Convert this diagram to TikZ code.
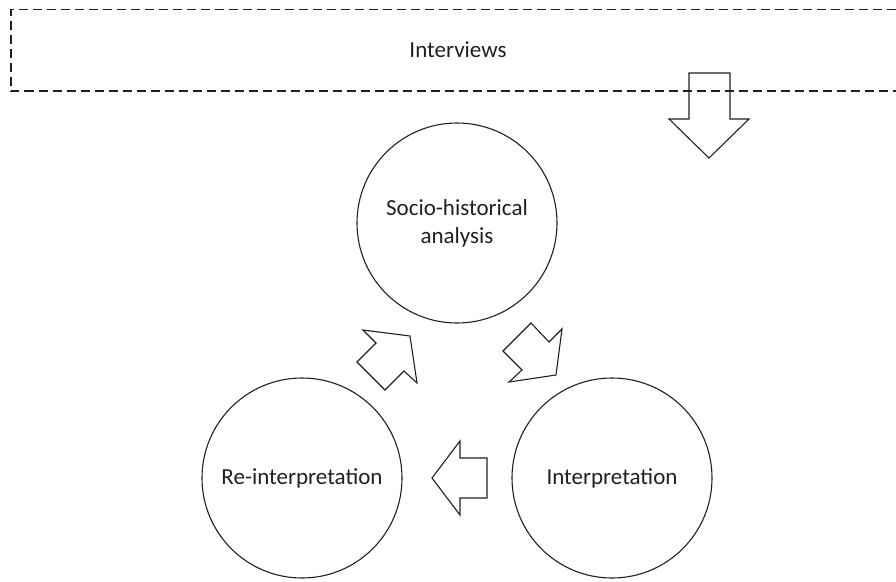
\documentclass[tikz,border=0pt]{standalone}
\usepackage{fontspec}
\setmainfont{Carlito}
\definecolor{ink}{HTML}{231F20}
\begin{document}
\begin{tikzpicture}[x=1pt,y=-1pt,
  every node/.style={font=\fontsize{23}{28}\selectfont, text=ink},
  stage/.style={circle, draw=ink, line width=1.1pt, minimum size=200pt, inner sep=0pt, align=center},
  blockarrow/.style={draw=ink, line width=1.1pt, fill=white, line join=miter},
  dashbox/.style={draw=ink, line width=1.1pt, dash pattern=on 9pt off 5pt}
]
\useasboundingbox (0,0) rectangle (896,581);
% interviews band (open to the right edge)
\draw[dashbox] (896,9.5) -- (11,9.5) -- (11,91) -- (896,91);
\node (interviews) at (458,50) {Interviews};
% circles
\node[stage] (socio) at (457,223) {Socio-historical\\analysis};
\node[stage] (reint) at (302,478) {Re-interpretation};
\node[stage] (interp) at (612,478) {Interpretation};
% down arrow from interviews
\draw[blockarrow, fill=none] (689,73) -- (730,73) -- (730,119) -- (749,119) -- (709,158) -- (669,119) -- (689,119) -- cycle;
% socio -> interpretation
\draw[blockarrow] (556,375) -- (562,329) -- (549,342) -- (531,323) -- (503,351) -- (522,370) -- (509,382) -- cycle;
% interpretation -> re-interpretation
\draw[blockarrow] (432,478) -- (460,441) -- (460,458) -- (487,458) -- (487,498) -- (460,498) -- (460,515) -- cycle;
% re-interpretation -> socio
\draw[blockarrow] (410,336) -- (363,330) -- (376,343) -- (357,362) -- (385,390) -- (404,371) -- (417,383) -- cycle;
\end{tikzpicture}
\end{document}
